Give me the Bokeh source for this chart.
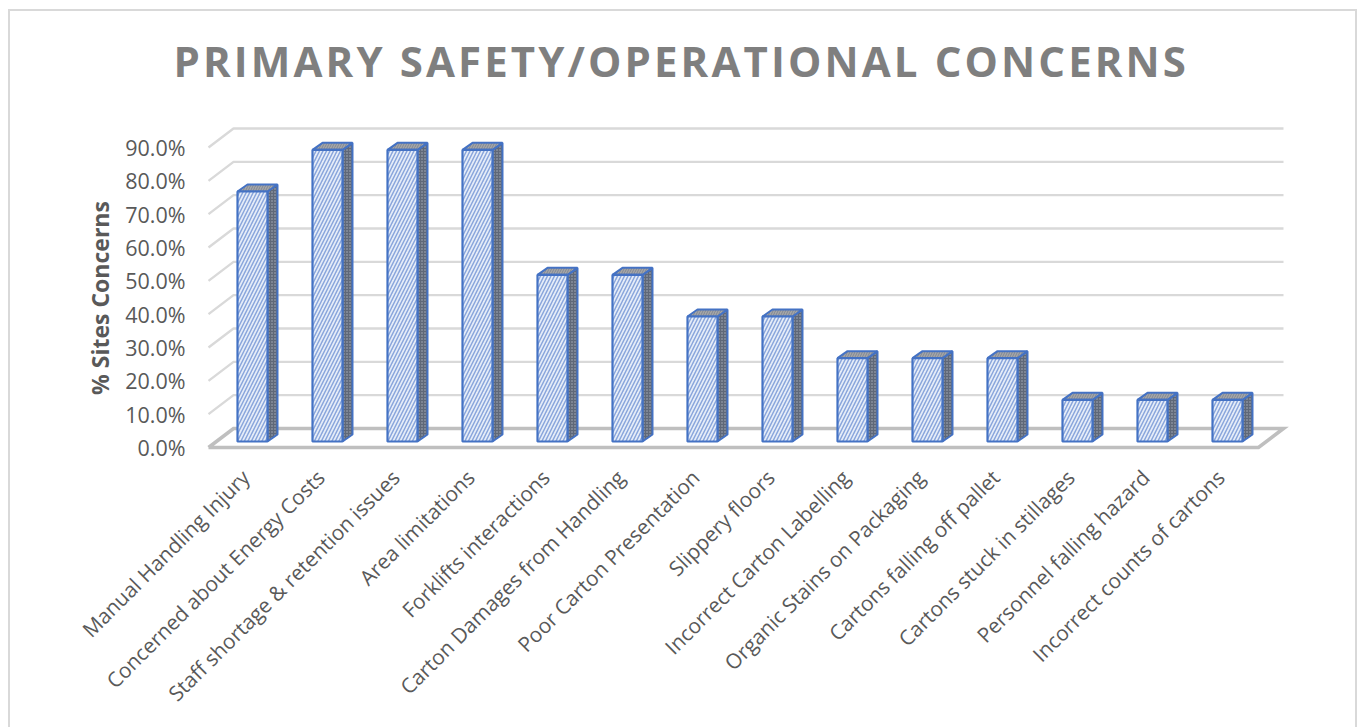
from bokeh.plotting import figure
from bokeh.layouts import column
from bokeh.embed import file_html
from bokeh.resources import INLINE
from bokeh.models import FixedTicker, PrintfTickFormatter, InlineStyleSheet

TITLE = "PRIMARY SAFETY/OPERATIONAL CONCERNS"
YLABEL = "% Sites Concerns"
CATEGORIES = ["Manual Handling Injury", "Concerned about Energy Costs", "Staff shortage & retention issues",
              "Area limitations", "Forklifts interactions", "Carton Damages from Handling",
              "Poor Carton Presentation", "Slippery floors", "Incorrect Carton Labelling",
              "Organic Stains on Packaging", "Cartons falling off pallet", "Cartons stuck in stillages",
              "Personnel falling hazard", "Incorrect counts of cartons"]
VALUES = [75.0, 87.5, 87.5, 87.5, 50.0, 50.0, 37.5, 37.5, 25.0, 25.0, 25.0, 12.5, 12.5, 12.5]
YTICKS = [0, 10, 20, 30, 40, 50, 60, 70, 80, 90]

PX_X, PX_Y = 75.0, 3.3333
W, H, TOP_H = 1357, 727, 112
FRAME_L, FRAME_R, FRAME_T, FRAME_B = 200, 1300, 120, 475
CX0, Y0 = 245, 447

# title strip: its own figure so that the wide tracking of the title applies to it alone
top = figure(width=W, height=TOP_H, frame_width=W - 40, frame_height=4, min_border_left=20, min_border_right=20,
             min_border_top=TOP_H - 4, min_border_bottom=0, x_axis_location=None, y_axis_location=None,
             x_range=(0, 1), y_range=(0, 1), output_backend="svg", toolbar_location=None,
             styles={"letter-spacing": "3.1px"})
top.outline_line_color = None
top.grid.visible = False
top.title.text = TITLE
top.title.align = "left"
top.title.offset = -27
top.title.standoff = 112 - 4 - 75 - 4 + 10
top.title.text_font = "Open Sans"
top.title.text_font_size = "42px"
top.title.text_font_style = "bold"
top.title.text_color = "#7f7f7f"
top.line([0, 1], [0, 0], line_alpha=0)

p = figure(width=W, height=H - TOP_H, frame_width=FRAME_R - FRAME_L, frame_height=FRAME_B - FRAME_T,
           min_border_left=FRAME_L, min_border_right=W - FRAME_R, min_border_top=FRAME_T - TOP_H,
           min_border_bottom=H - FRAME_B,
           x_range=((FRAME_L - CX0) / PX_X, (FRAME_R - CX0) / PX_X),
           y_range=((Y0 - FRAME_B) / PX_Y, (Y0 - FRAME_T) / PX_Y),
           output_backend="svg", toolbar_location=None, background_fill_color="white", border_fill_color="white")
p.outline_line_color = None
p.grid.visible = False

# floor and walls
DX_FLOOR, DY_FLOOR = 25 / PX_X, 19 / PX_Y
XL = (208 - CX0) / PX_X
XR = XL + len(CATEGORIES) * 1.0
GRID_C = "#d9d9d9"
for t in YTICKS[1:]:
    p.line([XL, XL + DX_FLOOR, XR + DX_FLOOR], [t, t + DY_FLOOR, t + DY_FLOOR], line_color=GRID_C, line_width=2.4)
p.line([XL, XL + DX_FLOOR, XR + DX_FLOOR, XR, XL], [0, DY_FLOOR, DY_FLOOR, 0, 0],
       line_color="#bfbfbf", line_width=3.6, line_join="miter")

# bars (set back from the front plane of the floor)
BX, HW, BY = 7 / PX_X, 15 / PX_X, 6 / PX_Y
DX, DY = 10 / PX_X, 7 / PX_Y
fx, fy, sx, sy, tx, ty = [], [], [], [], [], []
for i, v in enumerate(VALUES):
    l, r = i + BX - HW, i + BX + HW
    b, h = BY, v + BY
    fx.append([l, r, r, l]); fy.append([b, b, h, h])
    sx.append([r, r + DX, r + DX, r]); sy.append([b, b + DY, h + DY, h])
    tx.append([l, r, r + DX, l + DX]); ty.append([h, h, h + DY, h + DY])

BLUE = "#4472c4"
p.patches(sx, sy, fill_color="#5f6878", hatch_pattern="dot", hatch_color="#a9b1be", hatch_scale=3, hatch_weight=1,
          line_color=BLUE, line_width=2)
p.patches(tx, ty, fill_color="#a6a6a6", hatch_pattern="right_diagonal_line", hatch_color="#7f8796", hatch_scale=5, hatch_weight=1,
          line_color=BLUE, line_width=2)
p.patches(fx, fy, fill_color="#e6edf8", hatch_pattern="right_diagonal_line", hatch_color="#8aa6dc", hatch_scale=7, hatch_weight=1.5,
          line_color=BLUE, line_width=2.2)

# axes
p.yaxis.ticker = FixedTicker(ticks=YTICKS)
p.yaxis.formatter = PrintfTickFormatter(format="%.1f%%")
p.yaxis.axis_line_color = None
p.yaxis.major_tick_line_color = None
p.yaxis.minor_tick_line_color = None
p.yaxis.major_label_standoff = 9
p.yaxis.major_label_text_font = "Open Sans"
p.yaxis.major_label_text_font_size = "21.5px"
p.yaxis.major_label_text_color = "#595959"
p.yaxis.axis_label = YLABEL
p.yaxis.axis_label_text_font = "Open Sans"
p.yaxis.axis_label_text_font_size = "23px"
p.yaxis.axis_label_text_font_style = "bold"
p.yaxis.axis_label_text_color = "#595959"
p.yaxis.axis_label_standoff = 6

p.xaxis.ticker = FixedTicker(ticks=list(range(len(CATEGORIES))))
p.xaxis.major_label_overrides = {i: c for i, c in enumerate(CATEGORIES)}
p.xaxis.major_label_orientation = 0.785
p.xaxis.axis_line_color = None
p.xaxis.major_tick_line_color = None
p.xaxis.minor_tick_line_color = None
p.xaxis.major_label_standoff = -8
p.xaxis.major_label_text_font = "Open Sans"
p.xaxis.major_label_text_font_size = "20.8px"
p.xaxis.major_label_text_color = "#595959"

# chart border, drawn over the whole page
border = InlineStyleSheet(css=":host::after{content:'';position:absolute;left:8px;top:9px;right:0;bottom:0;"
                              "border:2px solid #d9d9d9;border-bottom:none;pointer-events:none;z-index:10;}")
layout = column(top, p, spacing=0, width=W, height=H, stylesheets=[border])

open("out.html", "w").write(file_html(layout, INLINE))
